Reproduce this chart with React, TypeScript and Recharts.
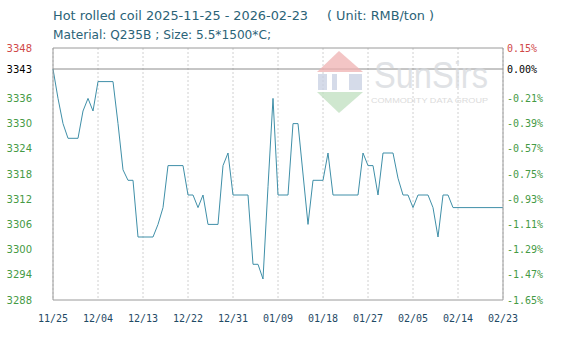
import { LineChart, Line, XAxis, YAxis, CartesianGrid, ReferenceLine } from 'recharts'

const dates = [
  '11/25', '11/26', '11/27', '11/28', '11/29', '11/30',
  '12/01', '12/02', '12/03', '12/04', '12/05', '12/06', '12/07', '12/08', '12/09', '12/10',
  '12/11', '12/12', '12/13', '12/14', '12/15', '12/16', '12/17', '12/18', '12/19', '12/20',
  '12/21', '12/22', '12/23', '12/24', '12/25', '12/26', '12/27', '12/28', '12/29', '12/30', '12/31',
  '01/01', '01/02', '01/03', '01/04', '01/05', '01/06', '01/07', '01/08', '01/09', '01/10',
  '01/11', '01/12', '01/13', '01/14', '01/15', '01/16', '01/17', '01/18', '01/19', '01/20',
  '01/21', '01/22', '01/23', '01/24', '01/25', '01/26', '01/27', '01/28', '01/29', '01/30', '01/31',
  '02/01', '02/02', '02/03', '02/04', '02/05', '02/06', '02/07', '02/08', '02/09', '02/10',
  '02/11', '02/12', '02/13', '02/14', '02/15', '02/16', '02/17', '02/18', '02/19', '02/20',
  '02/21', '02/22', '02/23',
]

// RMB/ton, one value per day
const prices = [
  3343, 3336, 3330, 3326.5, 3326.5, 3326.5, 3333, 3336, 3333, 3340,
  3340, 3340, 3340, 3330, 3319, 3316.5, 3316.5, 3303, 3303, 3303,
  3303, 3306, 3310, 3320, 3320, 3320, 3320, 3313, 3313, 3310,
  3313, 3306, 3306, 3306, 3320, 3323, 3313, 3313, 3313, 3313,
  3296.5, 3296.5, 3293, 3315, 3336, 3313, 3313, 3313, 3330, 3330,
  3318, 3306, 3316.5, 3316.5, 3316.5, 3323, 3313, 3313, 3313, 3313,
  3313, 3313, 3323, 3320, 3320, 3313, 3323, 3323, 3323, 3317,
  3313, 3313, 3310, 3313, 3313, 3313, 3310, 3303, 3313, 3313,
  3310, 3310, 3310, 3310, 3310, 3310, 3310, 3310, 3310, 3310, 3310,
]

const xTicks = ['11/25', '12/04', '12/13', '12/22', '12/31', '01/09', '01/18', '01/27', '02/05', '02/14', '02/23']
const yTicks = [3288, 3294, 3300, 3306, 3312, 3318, 3324, 3330, 3336, 3343, 3348]
const gridValues = [3288, 3294, 3300, 3306, 3312, 3318, 3324, 3330, 3336, 3342, 3348]
const yMin = 3288
const yMax = 3348

const base = prices[0]
const data = dates.map((date, i) => ({ date, price: prices[i] }))

const tickColor = (v: number) => (v > base ? '#d04848' : v === base ? '#000000' : '#459a45')
const pct = (v: number) => (((v - base) / base) * 100).toFixed(2) + '%'

const LeftTick = ({ x, y, payload }: any) => (
  <text x={x} y={y} dy={3.5} textAnchor="end" fontSize={10} fontFamily="DejaVu Sans" fill={tickColor(payload.value)}>
    {payload.value}
  </text>
)

const RightTick = ({ x, y, payload }: any) => (
  <text x={x} y={y} dy={3.5} textAnchor="start" fontSize={10} fontFamily="DejaVu Sans Mono" fill={tickColor(payload.value)}>
    {pct(payload.value)}
  </text>
)

export default function App() {
  return (
    <div style={{ position: 'absolute', left: 0, top: 0, width: 567, height: 343, background: '#fff' }}>
      <LineChart width={567} height={343} data={data} margin={{ top: 48, right: 0, bottom: 0, left: 0 }}>
        <CartesianGrid stroke="#d0d0d0" strokeDasharray="2 2" horizontalValues={gridValues} />
        <XAxis
          dataKey="date"
          ticks={xTicks}
          interval={0}
          height={43}
          tickSize={0}
          tickMargin={15}
          tickLine={false}
          axisLine={{ stroke: '#9a9a9a' }}
          tick={{ fontSize: 10, fontFamily: 'DejaVu Sans Mono', fill: '#1f4a66' }}
        />
        <YAxis
          yAxisId="left"
          domain={[yMin, yMax]}
          ticks={yTicks}
          interval={0}
          width={53}
          tickSize={0}
          tickMargin={21}
          tickLine={false}
          axisLine={{ stroke: '#9a9a9a' }}
          tick={<LeftTick />}
          allowDataOverflow
        />
        <YAxis
          yAxisId="right"
          orientation="right"
          domain={[yMin, yMax]}
          ticks={yTicks}
          interval={0}
          width={64}
          tickSize={0}
          tickMargin={4}
          tickLine={false}
          axisLine={{ stroke: '#9a9a9a' }}
          tick={<RightTick />}
          allowDataOverflow
        />
        {/* top edge of the plot frame */}
        <ReferenceLine yAxisId="left" y={yMax} stroke="#9a9a9a" ifOverflow="visible" />
        <ReferenceLine yAxisId="left" y={base} stroke="#8c8c8c" />
        <Line
          yAxisId="left"
          type="linear"
          dataKey="price"
          stroke="#3f8fa8"
          strokeWidth={1}
          dot={false}
          isAnimationActive={false}
        />
        <Line yAxisId="right" dataKey="price" stroke="none" dot={false} legendType="none" isAnimationActive={false} />
      </LineChart>
      <svg width={567} height={343} style={{ position: 'absolute', left: 0, top: 0, pointerEvents: 'none' }}>
        <text x={53} y={19.5} fontSize={13} fontFamily="DejaVu Sans" fill="#2b6377" textLength={255} lengthAdjust="spacingAndGlyphs">
          Hot rolled coil 2025-11-25 - 2026-02-23
        </text>
        <text x={327} y={19.5} fontSize={13} fontFamily="DejaVu Sans" fill="#2b6377" textLength={107} lengthAdjust="spacingAndGlyphs">
          ( Unit: RMB/ton )
        </text>
        <text x={53} y={38.5} fontSize={13} fontFamily="DejaVu Sans" fill="#2b6377" textLength={218} lengthAdjust="spacingAndGlyphs">
          Material: Q235B ; Size: 5.5*1500*C;
        </text>
        <g opacity={0.75}>
          <polygon points="339,51 317,72 363,72" fill="#f0b2b2" />
          <rect x={318} y={74} width={9} height={16} fill="#c8cfe2" />
          <rect x={332} y={74} width={5} height={16} fill="#c8cfe2" />
          <rect x={349} y={74} width={13} height={16} fill="#c8cfe2" />
          <polygon points="317,92 363,92 339,113" fill="#bfe0bf" />
          <text x={374} y={88} fontSize={36} fontFamily="Liberation Sans" fill="#d6d9dd" textLength={114} lengthAdjust="spacingAndGlyphs">
            SunSirs
          </text>
          <text x={371} y={103} fontSize={7} fontFamily="Liberation Sans" fill="#d0d0d0" textLength={117} lengthAdjust="spacingAndGlyphs">
            COMMODITY DATA GROUP
          </text>
        </g>
      </svg>
    </div>
  )
}
